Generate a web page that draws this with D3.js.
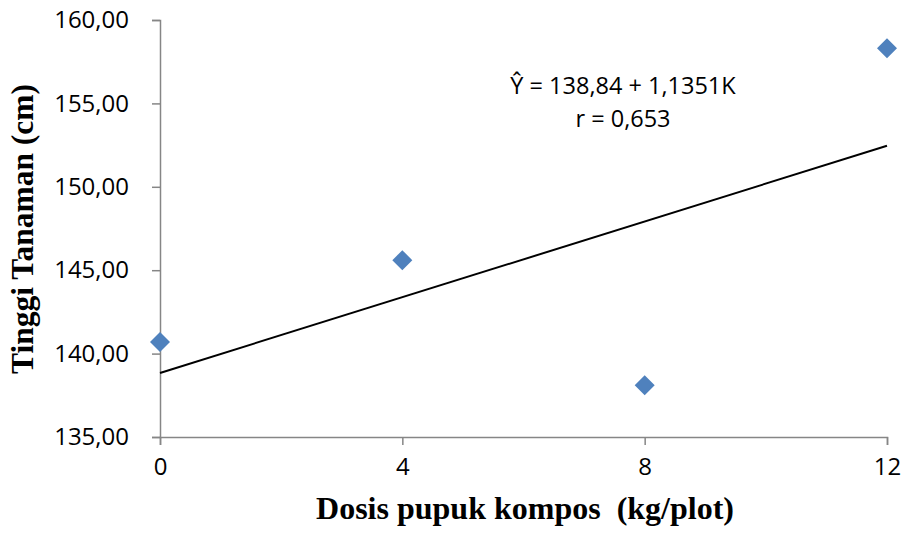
<!DOCTYPE html>
<html>
<head>
<meta charset="utf-8">
<script src="https://cdn.jsdelivr.net/npm/d3@7"></script>
<style>
  body { margin: 0; background: #fff; }
  svg { display: block; }
</style>
</head>
<body>
<script>
const width = 903;
const height = 535;

// Data
const dosis = [0, 4, 8, 12];
const tinggi = [140.7, 145.6, 138.1, 158.3];
const xTicks = [0, 4, 8, 12];
const yTicks = [135, 140, 145, 150, 155, 160];
const intercept = 138.84;
const slope = 1.1351;
const equationText = "Ŷ = 138,84 + 1,1351K";
const rText = "r = 0,653";

const axisColor = "#868686";
const markerColor = "#4F81BD";
const tickFont = "'Open Sans', sans-serif";
const titleFont = "'Liberation Serif', 'Times New Roman', serif";

const svg = d3.select("body").append("svg")
  .attr("width", width)
  .attr("height", height);

// Scales
const x = d3.scaleLinear().domain([0, 12]).range([160, 887]);
const y = d3.scaleLinear().domain([135, 160]).range([437, 20]);

// Y axis
const yAxis = svg.append("g")
  .attr("transform", `translate(${x(0)},0)`)
  .call(d3.axisLeft(y).tickValues(yTicks).tickSize(8).tickPadding(23)
    .tickFormat(d => d3.format(".2f")(d).replace(".", ",")));

// X axis
const xAxis = svg.append("g")
  .attr("transform", `translate(0,${y(135)})`)
  .call(d3.axisBottom(x).tickValues(xTicks).tickSize(8).tickPadding(13)
    .tickFormat(d => d));

[yAxis, xAxis].forEach(a => {
  a.select(".domain").attr("stroke", axisColor).attr("stroke-width", 1.5);
  a.selectAll(".tick line").attr("stroke", axisColor).attr("stroke-width", 1.5);
  a.selectAll(".tick text")
    .attr("fill", "#000")
    .style("font-family", tickFont)
    .style("font-size", "24px");
});

// Regression line
svg.append("line")
  .attr("x1", x(0))
  .attr("y1", y(intercept + slope * 0))
  .attr("x2", x(12))
  .attr("y2", y(intercept + slope * 12))
  .attr("stroke", "#000")
  .attr("stroke-width", 2);

// Diamond markers
const r = 10;
svg.selectAll(".pt")
  .data(dosis.map((d, i) => [d, tinggi[i]]))
  .enter()
  .append("path")
  .attr("class", "pt")
  .attr("d", d => {
    const cx = x(d[0]), cy = y(d[1]);
    return `M${cx},${cy - r}L${cx + r},${cy}L${cx},${cy + r}L${cx - r},${cy}Z`;
  })
  .attr("fill", markerColor);

// Equation text
svg.append("text")
  .attr("x", 623)
  .attr("y", 94)
  .attr("text-anchor", "middle")
  .style("font-family", tickFont)
  .style("font-size", "23.5px")
  .text(equationText);

svg.append("text")
  .attr("x", 623)
  .attr("y", 127)
  .attr("text-anchor", "middle")
  .style("font-family", tickFont)
  .style("font-size", "23.5px")
  .text(rText);

// Axis titles
svg.append("text")
  .attr("x", 525)
  .attr("y", 519)
  .attr("text-anchor", "middle")
  .attr("xml:space", "preserve")
  .style("white-space", "pre")
  .style("font-family", titleFont)
  .style("font-weight", "bold")
  .style("font-size", "32px")
  .text("Dosis pupuk kompos  (kg/plot)");

svg.append("text")
  .attr("transform", "translate(33,229) rotate(-90)")
  .attr("text-anchor", "middle")
  .style("font-family", titleFont)
  .style("font-weight", "bold")
  .style("font-size", "31.5px")
  .text("Tinggi Tanaman (cm)");
</script>
</body>
</html>
